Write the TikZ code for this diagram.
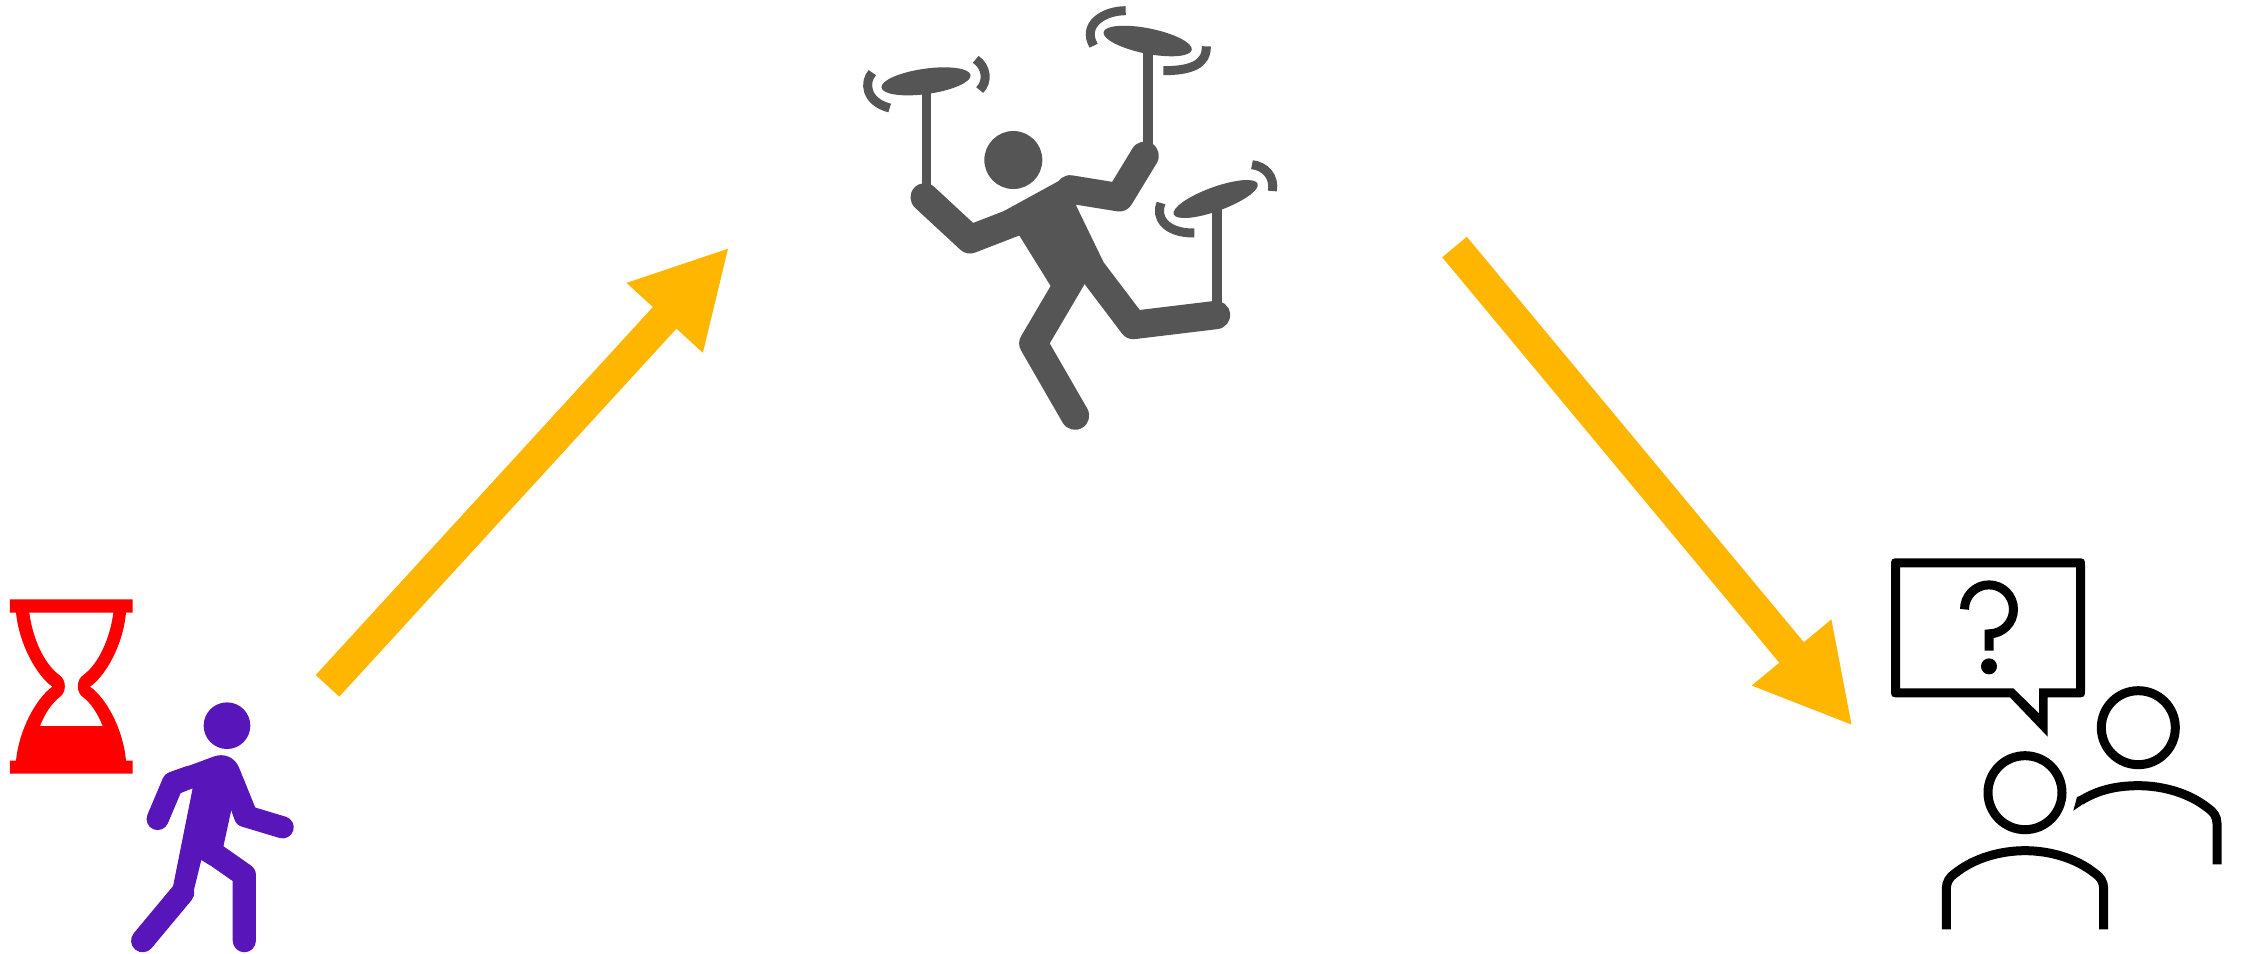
\documentclass[tikz,border=0pt]{standalone}
\usepackage{xcolor}
\usepackage{tikz}
\usetikzlibrary{arrows.meta}
\definecolor{flow-gold}{HTML}{FFB600}
\definecolor{glass-red}{HTML}{FF0000}
\definecolor{walker-purple}{HTML}{5816BA}
\definecolor{juggler-gray}{HTML}{555555}
\tikzset{
    flowarrow/.style={flow-gold, line width=9.1pt, -{Triangle[length=27.2pt, width=27.3pt]}},
    limb/.style={line width=#1, line cap=round, line join=round},
    swirl/.style={juggler-gray, line width=2.56pt},
    outline/.style={black, line width=2.56pt}
}

\begin{document}
\begin{tikzpicture}[x=0.01cm, y=-0.01cm]
    \useasboundingbox (0,0) rectangle (2244,953);

    % hourglass
    \begin{scope}[shift={(0,580)}, scale=0.33333]
        \fill[glass-red, even odd rule]
            (30,58) -- (398,58) -- (398,98) -- (378,98)
            .. controls (370,190) and (320,285) .. (270,320)
            .. controls (320,355) and (370,450) .. (378,542)
            -- (398,542) -- (398,581) -- (30,581) -- (30,542) -- (48,542)
            .. controls (57,450) and (108,355) .. (157,320)
            .. controls (108,285) and (57,190) .. (48,98)
            -- (30,98) -- cycle
            (88,98) .. controls (97,170) and (130,250) .. (178,285)
            .. controls (200,300) and (200,338) .. (178,352)
            .. controls (155,370) and (135,400) .. (120,438)
            -- (308,438)
            .. controls (293,400) and (273,370) .. (250,352)
            .. controls (228,338) and (228,300) .. (250,285)
            .. controls (298,250) and (331,170) .. (340,98) -- cycle;
    \end{scope}

    % walking person
    \begin{scope}[shift={(0,580)}, scale=0.33333, walker-purple]
        \fill (681,437) circle[radius=70];
        \fill (578,625) -- (518,925) -- (578,945) -- (604,840) -- (630,856) -- (670,800) -- (695,685)
            -- (718,720) -- (766,683) -- (718,565)
            .. controls (705,530) and (670,518) .. (640,530)
            -- (505,580) -- (540,640) -- cycle;
        \draw[limb=6.3pt] (473,717) -- (519,608) -- (570,590);
        \draw[limb=6.3pt] (700,610) -- (735,708) -- (848,742);
        \draw[limb=6.6pt] (428,1082) -- (548,938);
        \draw[limb=6.6pt] (733,1082) -- (733,885) -- (650,827);
    \end{scope}

    % juggler with spinning plates
    \begin{scope}[shift={(840,0)}, scale=0.33333, juggler-gray]
        \fill (520,480) circle[radius=87];
        \fill (490,634) -- (680,530) -- (710,620) -- (790,785) -- (740,800) -- (632,858) -- (537,705) -- cycle;
        \draw[limb=8.06pt] (254,592) -- (390,718) -- (540,660);
        \draw[limb=8.06pt] (690,568) -- (838,592) -- (914,467);
        \draw[limb=8.06pt] (700,826) -- (580,1030) -- (705,1247);
        \draw[limb=8.06pt] (740,790) -- (880,975) -- (1128,945);
        \foreach \x/\ytop/\ybot in {260/270/570, 924/150/440, 1131/625/910} {
            \draw[line width=2.6pt] (\x,\ytop) -- (\x,\ybot);
        }
        \fill[rotate around={8:(258,244)}] (258,244) ellipse[x radius=135, y radius=38];
        \fill[rotate around={-11.4:(923,123)}] (923,123) ellipse[x radius=135, y radius=38];
        \fill[rotate around={20:(1127,597)}] (1127,597) ellipse[x radius=134, y radius=36];
        \draw[swirl] (97,218) .. controls (72,245) and (75,305) .. (149,324);
        \draw[swirl] (407,178) .. controls (440,200) and (445,245) .. (419,270);
        \draw[swirl] (857,32) .. controls (790,32) and (725,75) .. (761,137);
        \draw[swirl] (970,212) .. controls (1050,212) and (1100,195) .. (1099,139);
        \draw[swirl] (963,609) .. controls (945,650) and (975,700) .. (1063,699);
        \draw[swirl] (1236,494) .. controls (1275,498) and (1305,530) .. (1297,573);
    \end{scope}

    % two people and a question
    \begin{scope}[shift={(1860,540)}, scale=0.33333]
        \fill[black, even odd rule]
            (119,55) -- (649,55) .. controls (675,55) .. (675,81)
            -- (675,446) .. controls (675,472) .. (649,472)
            -- (563,472) -- (563,590) -- (450,472)
            -- (119,472) .. controls (93,472) .. (93,446)
            -- (93,81) .. controls (93,55) .. (119,55) -- cycle
            (120,82) -- (648,82) -- (648,445) -- (537,445) -- (537,520) -- (460,445) -- (120,445) -- cycle;
        \draw[outline] (313.5,208) arc[start angle=180, end angle=450, radius=73.5] -- (387,332);
        \fill (387,379) circle[radius=24];
        \draw[outline] (835,563) circle[radius=111];
        \draw[outline] (495,758) circle[radius=111];
        \draw[outline] (259,1168) -- (259,1045)
            .. controls (259,1025) and (270,1010) .. (285,1000)
            .. controls (345,952) and (425,932) .. (495,932)
            .. controls (565,932) and (645,952) .. (705,1000)
            .. controls (720,1010) and (731,1025) .. (731,1045) -- (731,1168);
        \draw[outline] (662,782)
            .. controls (710,752) and (765,737) .. (835,737)
            .. controls (905,737) and (985,757) .. (1045,805)
            .. controls (1060,815) and (1071,830) .. (1071,850) -- (1071,973);
        \fill (651,771) -- (640,812) -- (672,790) -- (668,766) -- cycle;
    \end{scope}

    % flow arrows
    \coordinate (walkerout) at (327.5,685.8);
    \coordinate (jugglerin) at (729.3,247.3);
    \coordinate (jugglerout) at (1454.5,247);
    \coordinate (peoplein) at (1852.7,726);
    \draw[flowarrow] (walkerout) -- (jugglerin);
    \draw[flowarrow] (jugglerout) -- (peoplein);
\end{tikzpicture}
\end{document}
